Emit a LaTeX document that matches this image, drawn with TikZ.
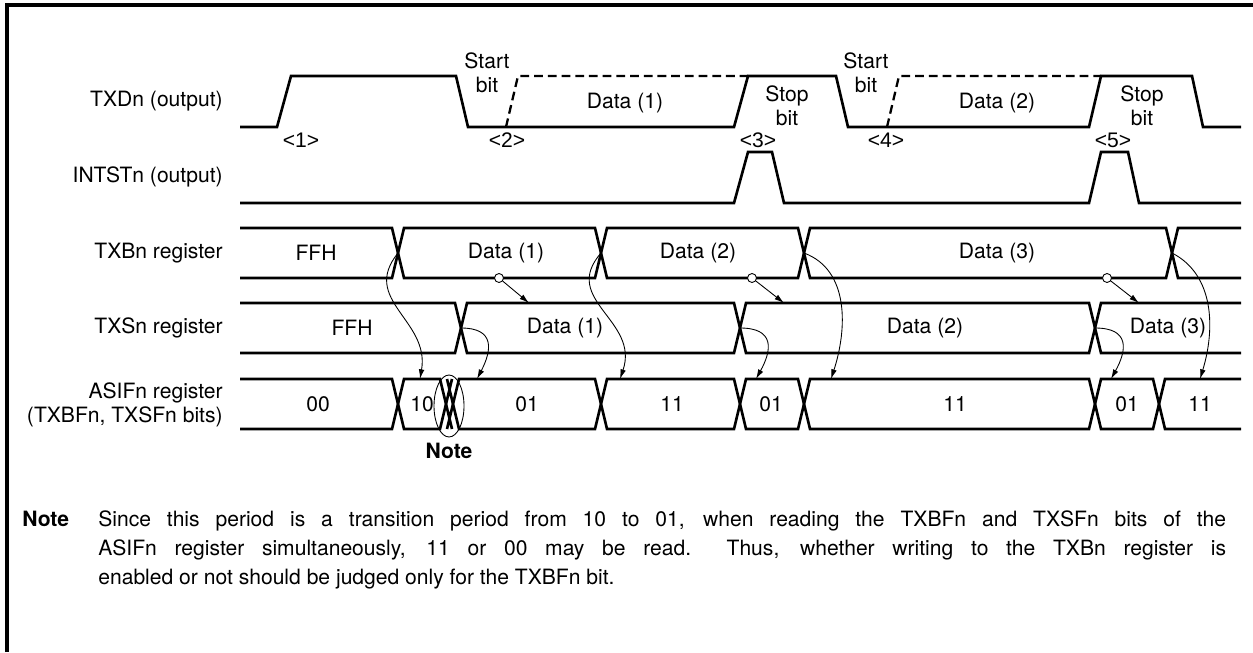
\documentclass[tikz,border=0pt]{standalone}
\usepackage{fontspec}
\setmainfont{TeX Gyre Heros}
\newfontfamily\markfont{Liberation Sans}
\usepackage{tikz}
\usetikzlibrary{
    arrows.meta,
    calc
}

\begin{document}
\begin{tikzpicture}[x=0.02cm, y=-0.02cm,
        font=\fontsize{12}{13.5}\selectfont,
        wave/.style={line width=1.5pt, line join=miter},
        dashwave/.style={line width=1.3pt, dash pattern=on 5pt off 2.8pt},
        thinline/.style={line width=0.5pt},
        thinarrow/.style={line width=0.5pt, -{Latex[length=5.5pt, width=3.2pt]}},
        signame/.style={anchor=east, align=right, inner sep=0pt},
        tag/.style={inner sep=0pt},
        marker/.style={inner sep=0pt, font=\fontsize{12}{13.5}\markfont},
        hook/.style={circle, draw, fill=white, line width=0.5pt, inner sep=0pt, minimum size=0.18cm}]
        \useasboundingbox (0,0) rectangle (1253,652);

        % Frame
        \draw[line width=2pt] (7,652) -- (7,5) -- (1253,5);

        % Signal names
        \node[signame] (n-txd) at (223,101) {TXDn (output)};
        \node[signame] (n-int) at (223,177) {INTSTn (output)};
        \node[signame] (n-txb) at (223,253) {TXBn register};
        \node[signame] (n-txs) at (223,328) {TXSn register};
        \node[signame] (n-asif) at (223,405) {ASIFn register\\(TXBFn, TXSFn bits)};

        % TXDn waveform
        \draw[wave] (240,127) -- (277,127) -- (291,76) -- (456,76) -- (468,127) -- (734,127)
            -- (748,76) -- (836,76) -- (848,127) -- (1089,127) -- (1101,76) -- (1192,76)
            -- (1203,127) -- (1241,127);
        \draw[dashwave] (506,127) -- (518,76) -- (748,76);
        \draw[dashwave] (887,127) -- (899,76) -- (1101,76);

        % TXDn texts
        \node[tag, align=center] (start1) at (487,73) {Start\\bit};
        \node[tag, align=center] (start2) at (866,73) {Start\\bit};
        \node[tag] (d1) at (625,103) {Data (1)};
        \node[tag] (d2) at (997,103) {Data (2)};
        \node[tag, align=center] (stop1) at (787,106) {Stop\\bit};
        \node[tag, align=center] (stop2) at (1142,106) {Stop\\bit};
        \node[marker] (m1) at (301,140) {<1>};
        \node[marker] (m2) at (507,140) {<2>};
        \node[marker] (m3) at (758,140) {<3>};
        \node[marker] (m4) at (886,140) {<4>};
        \node[marker] (m5) at (1113,140) {<5>};

        % INTSTn waveform
        \draw[wave] (240,203) -- (734,203) -- (748,152) -- (772,152) -- (784,203) -- (1089,203)
            -- (1101,152) -- (1128,152) -- (1139,203) -- (1241,203);

        % Register buses: open ends
        \foreach \b/\yt in {398/228, 461/303, 398/379}
            \draw[wave] (240,\yt) -- (\b-6,\yt) -- (\b,\yt+25) -- (\b-6,\yt+50) -- (240,\yt+50);
        \foreach \a/\yt in {1172/228, 1095/303, 1159/379}
            \draw[wave] (1241,\yt) -- (\a+6,\yt) -- (\a,\yt+25) -- (\a+6,\yt+50) -- (1241,\yt+50);

        % Register buses: inner values
        \foreach \a/\b/\yt in {398/601/228, 601/804/228, 804/1172/228,
                               461/740/303, 740/1095/303,
                               398/446/379, 453/601/379, 601/740/379, 740/804/379,
                               804/1095/379, 1095/1159/379}
            \draw[wave] (\a,\yt+25) -- (\a+6,\yt) -- (\b-6,\yt) -- (\b,\yt+25)
                -- (\b-6,\yt+50) -- (\a+6,\yt+50) -- cycle;
        \draw[wave] (446,404) -- (452,379) (446,404) -- (452,429)
            (447,379) -- (453,404) (447,429) -- (453,404);

        % Register values
        \node[tag] (b0) at (316,253) {FFH};
        \node[tag] (b1) at (506,253) {Data (1)};
        \node[tag] (b2) at (698,253) {Data (2)};
        \node[tag] (b3) at (997,253) {Data (3)};
        \node[tag] (s0) at (352,328) {FFH};
        \node[tag] (s1) at (565,328) {Data (1)};
        \node[tag] (s2) at (925,328) {Data (2)};
        \node[tag] (s3) at (1168,328) {Data (3)};
        \node[tag] (a0) at (318,404) {00};
        \node[tag] (a1) at (422,404) {10};
        \node[tag] (a2) at (527,404) {01};
        \node[tag] (a3) at (672,404) {11};
        \node[tag] (a4) at (771,404) {01};
        \node[tag] (a5) at (955,404) {11};
        \node[tag] (a6) at (1127,404) {01};
        \node[tag] (a7) at (1200,404) {11};

        % Crossing points and arrow ends
        \coordinate (bx1) at (398,253);
        \coordinate (bx2) at (601,253);
        \coordinate (bx3) at (804,253);
        \coordinate (bx4) at (1172,253);
        \coordinate (sx1) at (461,328);
        \coordinate (sx2) at (740,328);
        \coordinate (sx3) at (1095,328);
        \coordinate (st1) at (529,303);
        \coordinate (st2) at (784,303);
        \coordinate (st3) at (1139,303);
        \coordinate (at1) at (420,379);
        \coordinate (at2) at (477,379);
        \coordinate (at3) at (620,379);
        \coordinate (at4) at (756,379);
        \coordinate (at5) at (831,379);
        \coordinate (at6) at (1111,379);
        \coordinate (at7) at (1200,379);

        % Transfer TXBn -> TXSn
        \node[hook] (h1) at (499,278) {};
        \node[hook] (h2) at (752,278) {};
        \node[hook] (h3) at (1107,278) {};
        \draw[thinarrow] (h1) -- (st1);
        \draw[thinarrow] (h2) -- (st2);
        \draw[thinarrow] (h3) -- (st3);

        % Flag changes
        \draw[thinarrow] (bx1) .. controls (360,300) and (430,320) .. (at1);
        \draw[thinarrow] (sx1) .. controls (495,328) and (492,350) .. (at2);
        \draw[thinarrow] (bx2) .. controls (560,300) and (640,320) .. (at3);
        \draw[thinarrow] (sx2) .. controls (775,328) and (772,350) .. (at4);
        \draw[thinarrow] (bx3) .. controls (850,270) and (847,330) .. (at5);
        \draw[thinarrow] (sx3) .. controls (1130,328) and (1127,350) .. (at6);
        \draw[thinarrow] (bx4) .. controls (1215,275) and (1215,330) .. (at7);

        % Note mark
        \draw[thinline] (449,406) ellipse [x radius=0.3cm, y radius=0.62cm];
        \node[tag, font=\fontsize{12}{13.5}\selectfont\bfseries] (mark) at (449,451) {Note};

        % Note text
        \node[anchor=base west, inner sep=0pt, font=\fontsize{12}{14}\selectfont\bfseries] (notehead) at (22,526) {Note};
        \node[anchor=north west, inner sep=0pt, text width=22.56cm, align=justify,
            font=\fontsize{12}{16.5}\selectfont] (notetext) at (98,510)
            {Since this period is a transition period from 10 to 01, when reading the TXBFn and TXSFn bits of the\linebreak
             ASIFn register simultaneously, 11 or 00 may be read.\ \ Thus, whether writing to the TXBn register is\linebreak
             enabled or not should be judged only for the TXBFn bit.};
    \end{tikzpicture}
\end{document}
